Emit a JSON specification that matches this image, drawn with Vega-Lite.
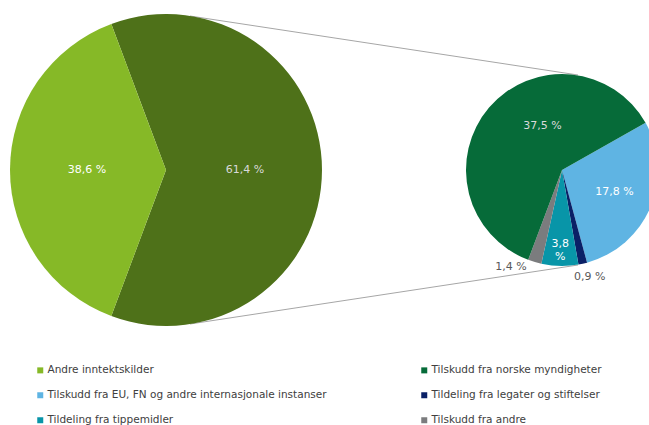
{
  "$schema": "https://vega.github.io/schema/vega-lite/v6.json",
  "width": 649,
  "height": 340,
  "padding": 0,
  "background": "white",
  "config": {"view": {"stroke": null}, "font": "DejaVu Sans"},
  "datasets": {
    "kilder": [
      {"pie": "hoved", "kategori": "Tilskudd og tildelinger", "andel": 61.4, "etikett": "61,4 %", "rekke": 1},
      {"pie": "hoved", "kategori": "Andre inntektskilder", "andel": 38.6, "etikett": "38,6 %", "rekke": 2},
      {"pie": "detalj", "kategori": "Tilskudd fra EU, FN og andre internasjonale instanser", "andel": 17.8, "etikett": "17,8 %", "rekke": 1},
      {"pie": "detalj", "kategori": "Tildeling fra legater og stiftelser", "andel": 0.9, "etikett": "0,9 %", "rekke": 2},
      {"pie": "detalj", "kategori": "Tildeling fra tippemidler", "andel": 3.8, "etikett": "3,8 %", "rekke": 3},
      {"pie": "detalj", "kategori": "Tilskudd fra andre", "andel": 1.4, "etikett": "1,4 %", "rekke": 4},
      {"pie": "detalj", "kategori": "Tilskudd fra norske myndigheter", "andel": 37.5, "etikett": "37,5 %", "rekke": 5}
    ],
    "linjer": [
      {"fra": "hoved", "til": "detalj", "kant": "topp"},
      {"fra": "hoved", "til": "detalj", "kant": "bunn"}
    ]
  },
  "resolve": {"scale": {"theta": "independent"}},
  "layer": [
    {
      "data": {"name": "linjer"},
      "transform": [{"filter": "datum.kant === 'topp'"}],
      "mark": {"type": "rule", "color": "#a6a6a6", "strokeWidth": 1, "xOffset": 24, "x2Offset": 16, "y2Offset": 59},
      "encoding": {
        "x": {"field": "fra", "type": "nominal", "scale": {"type": "point", "domain": ["hoved", "detalj"], "range": [166, 562], "padding": 0}, "axis": null},
        "x2": {"field": "til"},
        "y": {"field": "kant", "type": "nominal", "scale": {"type": "point", "domain": ["topp", "bunn"], "range": [16, 324], "padding": 0}, "axis": null},
        "y2": {"field": "kant"}
      }
    },
    {
      "data": {"name": "linjer"},
      "transform": [{"filter": "datum.kant === 'bunn'"}],
      "mark": {"type": "rule", "color": "#a6a6a6", "strokeWidth": 1, "xOffset": 24, "x2Offset": 16, "y2Offset": -59},
      "encoding": {
        "x": {"field": "fra", "type": "nominal", "scale": {"type": "point", "domain": ["hoved", "detalj"], "range": [166, 562], "padding": 0}, "axis": null},
        "x2": {"field": "til"},
        "y": {"field": "kant", "type": "nominal", "scale": {"type": "point", "domain": ["topp", "bunn"], "range": [16, 324], "padding": 0}, "axis": null},
        "y2": {"field": "kant"}
      }
    },
    {
      "data": {"name": "kilder"},
      "transform": [{"filter": "datum.pie === 'hoved'"}],
      "encoding": {
        "x": {"field": "pie", "type": "nominal", "scale": {"type": "point", "domain": ["hoved", "detalj"], "range": [166, 562], "padding": 0}, "axis": null},
        "theta": {"field": "andel", "type": "quantitative", "stack": true, "scale": {"range": [-0.358, 5.925]}},
        "order": {"field": "rekke", "type": "quantitative"}
      },
      "layer": [
        {
          "mark": {"type": "arc", "outerRadius": 156},
          "encoding": {
            "color": {
              "field": "kategori", "type": "nominal",
              "scale": {
                "domain": ["Andre inntektskilder", "Tilskudd fra norske myndigheter", "Tilskudd fra EU, FN og andre internasjonale instanser", "Tildeling fra legater og stiftelser", "Tildeling fra tippemidler", "Tilskudd fra andre", "Tilskudd og tildelinger"],
                "range": ["#86b927", "#066b39", "#5fb4e3", "#0a2066", "#0895a8", "#7b7c7e", "#4e7119"]
              },
              "legend": {
                "values": ["Andre inntektskilder", "Tilskudd fra EU, FN og andre internasjonale instanser", "Tildeling fra tippemidler", "Tilskudd fra norske myndigheter", "Tildeling fra legater og stiftelser", "Tilskudd fra andre"],
                "orient": "none", "legendX": 35, "legendY": 365, "columns": 2, "columnPadding": 92, "rowPadding": 14,
                "symbolType": "square", "symbolSize": 36, "symbolStrokeWidth": 0,
                "labelFontSize": 10.5, "labelColor": "#404040", "labelOffset": 2, "labelLimit": 400,
                "title": null, "gridAlign": "all", "padding": 0
              }
            }
          }
        },
        {
          "mark": {"type": "text", "radius": 79, "fontSize": 11, "font": "DejaVu Sans"},
          "encoding": {
            "text": {"field": "etikett"},
            "color": {"condition": {"test": "datum.rekke === 2", "value": "#ffffff"}, "value": "#d9d9d9"}
          }
        }
      ]
    },
    {
      "data": {"name": "kilder"},
      "transform": [{"filter": "datum.pie === 'detalj'"}],
      "encoding": {
        "x": {"field": "pie", "type": "nominal", "scale": {"type": "point", "domain": ["hoved", "detalj"], "range": [166, 562], "padding": 0}, "axis": null},
        "theta": {"field": "andel", "type": "quantitative", "stack": true, "scale": {"range": [1.056, 7.339]}},
        "order": {"field": "rekke", "type": "quantitative"}
      },
      "layer": [
        {
          "mark": {"type": "arc", "outerRadius": 96},
          "encoding": {
            "color": {
              "field": "kategori", "type": "nominal",
              "scale": {
                "domain": ["Andre inntektskilder", "Tilskudd fra norske myndigheter", "Tilskudd fra EU, FN og andre internasjonale instanser", "Tildeling fra legater og stiftelser", "Tildeling fra tippemidler", "Tilskudd fra andre", "Tilskudd og tildelinger"],
                "range": ["#86b927", "#066b39", "#5fb4e3", "#0a2066", "#0895a8", "#7b7c7e", "#4e7119"]
              },
              "legend": {
                "values": ["Andre inntektskilder", "Tilskudd fra EU, FN og andre internasjonale instanser", "Tildeling fra tippemidler", "Tilskudd fra norske myndigheter", "Tildeling fra legater og stiftelser", "Tilskudd fra andre"],
                "orient": "none", "legendX": 35, "legendY": 365, "columns": 2, "columnPadding": 92, "rowPadding": 14,
                "symbolType": "square", "symbolSize": 36, "symbolStrokeWidth": 0,
                "labelFontSize": 10.5, "labelColor": "#404040", "labelOffset": 2, "labelLimit": 400,
                "title": null, "gridAlign": "all", "padding": 0
              }
            }
          }
        },
        {
          "mark": {"type": "text", "radius": 57, "fontSize": 11, "font": "DejaVu Sans", "color": "#ffffff"},
          "encoding": {
            "text": {"condition": {"test": "datum.rekke === 1", "field": "etikett"}, "value": ""}
          }
        },
        {
          "mark": {"type": "text", "radius": 48, "dx": 17, "dy": -13, "fontSize": 11, "font": "DejaVu Sans", "color": "#d9d9d9"},
          "encoding": {
            "text": {"condition": {"test": "datum.rekke === 5", "field": "etikett"}, "value": ""}
          }
        },
        {
          "mark": {"type": "text", "radius": 74, "fontSize": 11, "font": "DejaVu Sans", "color": "#ffffff", "lineBreak": " ", "lineHeight": 13},
          "encoding": {
            "text": {"condition": {"test": "datum.rekke === 3", "field": "etikett"}, "value": ""}
          }
        },
        {
          "mark": {"type": "text", "radius": 110, "dx": 4, "fontSize": 11, "font": "DejaVu Sans", "color": "#595959"},
          "encoding": {
            "text": {"condition": {"test": "datum.rekke === 2", "field": "etikett"}, "value": ""}
          }
        },
        {
          "mark": {"type": "text", "radius": 110, "dx": -4, "dy": -8, "align": "right", "fontSize": 11, "font": "DejaVu Sans", "color": "#595959"},
          "encoding": {
            "text": {"condition": {"test": "datum.rekke === 4", "field": "etikett"}, "value": ""}
          }
        }
      ]
    }
  ]
}
